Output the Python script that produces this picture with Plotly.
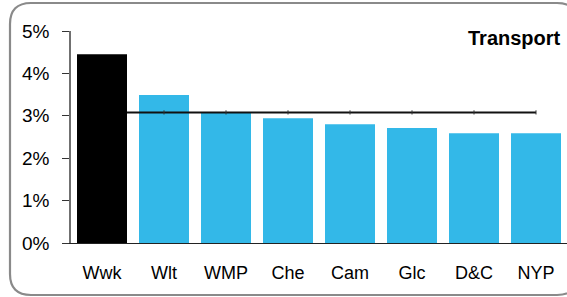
import plotly.graph_objects as go

categories = ["Wwk", "Wlt", "WMP", "Che", "Cam", "Glc", "D&C", "NYP"]
values = [4.45, 3.49, 3.08, 2.94, 2.80, 2.71, 2.59, 2.59]
average = 3.08
y_ticks = [0, 1, 2, 3, 4, 5]
y_tick_labels = ["0%", "1%", "2%", "3%", "4%", "5%"]
title_text = "Transport"

W, H = 567, 297
ML, MR, MT, MB = 71, 0, 31, 54
PW, PH = W - ML - MR, H - MT - MB

def px_x(X):
    return (X - ML) / PW

def px_y(Y):
    return (H - MB - Y) / PH

blue = "#33B8E8"
colors = ["#000000"] + [blue] * (len(categories) - 1)
bargap = 12 / 62
bar_w = 1 - bargap

xs = list(range(len(categories)))

fig = go.Figure()
fig.add_trace(go.Bar(x=xs, y=values, marker=dict(color=colors, line=dict(width=0)),
                     width=bar_w, showlegend=False, hoverinfo="skip"))
# average line, starting at the right edge of the first bar
line_x = [xs[0] + bar_w / 2] + xs[1:]
fig.add_trace(go.Scatter(x=line_x, y=[average] * len(line_x), mode="lines",
                         line=dict(color="#111111", width=2), showlegend=False, hoverinfo="skip"))
fig.add_trace(go.Scatter(x=xs[1:], y=[average] * (len(xs) - 1), mode="markers",
                         marker=dict(symbol="line-ns", size=3, line=dict(color="#333333", width=1)),
                         showlegend=False, hoverinfo="skip"))

# rounded border
x0, x1 = 10, 578
y0, y1 = 3, 295
r = 21
rx, ry = r / PW, r / PH
X0, X1 = px_x(x0), px_x(x1)
Yt, Yb = px_y(y0), px_y(y1)
path = (f"M {X0+rx},{Yt} L {X1-rx},{Yt} Q {X1},{Yt} {X1},{Yt-ry} "
        f"L {X1},{Yb+ry} Q {X1},{Yb} {X1-rx},{Yb} "
        f"L {X0+rx},{Yb} Q {X0},{Yb} {X0},{Yb+ry} "
        f"L {X0},{Yt-ry} Q {X0},{Yt} {X0+rx},{Yt} Z")
fig.add_shape(type="path", path=path, xref="paper", yref="paper",
              line=dict(color="#8a8a8a", width=2.2), layer="above")

fig.add_annotation(text=f"<b>{title_text}</b>", xref="paper", yref="paper",
                   x=px_x(563), y=px_y(38), xanchor="right", yanchor="middle",
                   showarrow=False, font=dict(size=20, color="#000000",
                                               family="Liberation Sans, Arial, sans-serif"))

fig.update_layout(
    width=W, height=H,
    margin=dict(l=ML, r=MR, t=MT, b=MB, pad=0),
    paper_bgcolor="white", plot_bgcolor="white",
    bargap=bargap,
    font=dict(family="Liberation Sans, Arial, sans-serif", color="#000000"),
    xaxis=dict(range=[-0.5, len(categories) - 0.5], tickmode="array", tickvals=xs,
               ticktext=categories, showgrid=False, zeroline=False, showline=True,
               linecolor="#222222", linewidth=1, ticks="", ticklabelstandoff=13,
               tickfont=dict(size=18), fixedrange=True),
    yaxis=dict(range=[0, 5], tickmode="array", tickvals=y_ticks, ticktext=y_tick_labels,
               showgrid=False, zeroline=False, showline=True, linecolor="#707070",
               linewidth=1.5, ticks="outside", ticklen=7, tickcolor="#333333", tickwidth=1.2,
               ticklabelstandoff=9, tickfont=dict(size=19), fixedrange=True),
)

fig.write_html("out.html", config={"displayModeBar": False},
               post_script="document.body.style.margin='0';document.body.style.overflow='hidden';")
